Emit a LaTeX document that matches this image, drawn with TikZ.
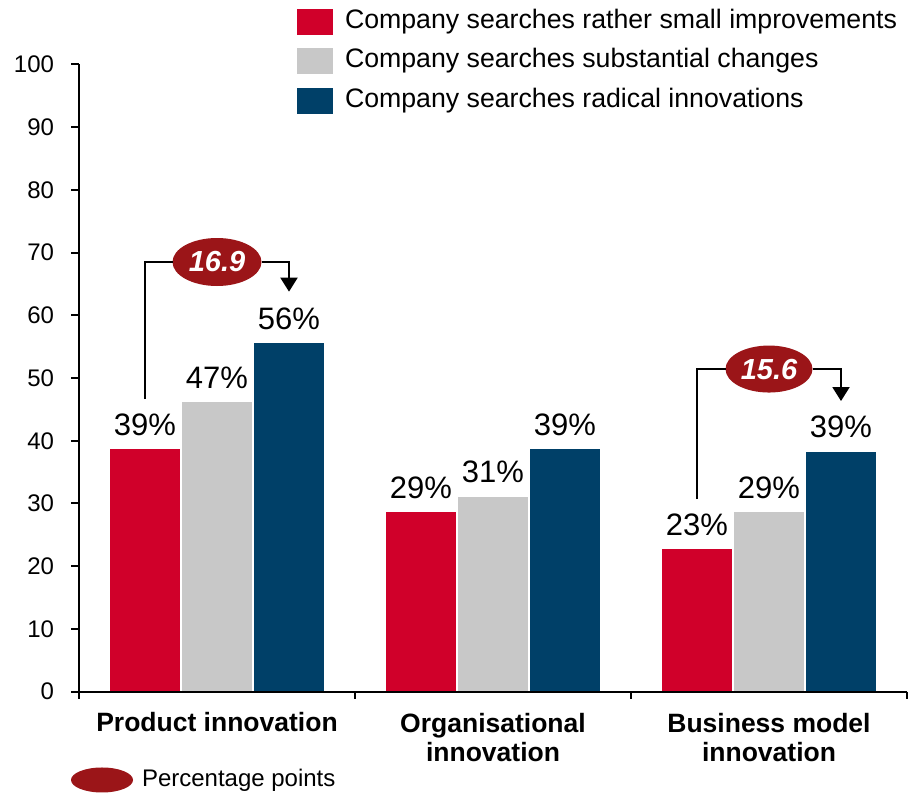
\documentclass[tikz,border=0pt]{standalone}
\usepackage{fontspec}
\setmainfont{Liberation Sans}
\definecolor{small}{RGB}{208,0,42}
\definecolor{subst}{RGB}{200,200,200}
\definecolor{radical}{RGB}{0,64,104}
\definecolor{points}{RGB}{155,21,24}
\usetikzlibrary{arrows.meta}
\usetikzlibrary{positioning}
\usetikzlibrary{shapes.geometric}
\tikzstyle{chart}=[x=1pt, y=6.274pt, inner sep=0pt, outer sep=0pt]
\tikzstyle{bar}=[draw=white, line width=1.5pt]
\tikzstyle{axis}=[black, line width=2pt]
\tikzstyle{tick}=[font=\fontsize{24}{28}\selectfont, anchor=east]
\tikzstyle{pct}=[font=\fontsize{31}{36}\selectfont, anchor=base]
\tikzstyle{cat}=[font=\fontsize{26.5}{29}\selectfont\bfseries, align=center, anchor=base]
\tikzstyle{key}=[minimum width=36pt, minimum height=26pt]
\tikzstyle{keytext}=[font=\fontsize{26.7}{30}\selectfont]
\tikzstyle{diff}=[ellipse, fill=points, text=white, font=\fontsize{29}{32}\selectfont\bfseries\itshape, minimum width=89pt, minimum height=48pt]
\tikzstyle{bracket}=[black, line width=2pt]

\begin{document}
\begin{tikzpicture}[chart]
    \path [use as bounding box] (0,-16.146) rectangle (912,110.25);
        % bars
        \draw [bar, fill=small] (109,0) rectangle (181,38.8);
        \draw [bar, fill=subst] (181,0) rectangle (253,46.3);
        \draw [bar, fill=radical] (253,0) rectangle (325,55.7);
        \draw [bar, fill=small] (385,0) rectangle (457,28.8);
        \draw [bar, fill=subst] (457,0) rectangle (529,31.2);
        \draw [bar, fill=radical] (529,0) rectangle (601,38.8);
        \draw [bar, fill=small] (661,0) rectangle (733,22.9);
        \draw [bar, fill=subst] (733,0) rectangle (805,28.8);
        \draw [bar, fill=radical] (805,0) rectangle (877,38.4);
        \node [pct] (p1a) at (145,38.8 + 2.07) {39\%};
        \node [pct] (p1b) at (217,46.3 + 2.07) {47\%};
        \node [pct] (p1c) at (289,55.7 + 2.07) {56\%};
        \node [pct] (p2a) at (421,28.8 + 2.07) {29\%};
        \node [pct] (p2b) at (493,31.2 + 2.07) {31\%};
        \node [pct] (p2c) at (565,38.8 + 2.07) {39\%};
        \node [pct] (p3a) at (697,22.9 + 2.07) {23\%};
        \node [pct] (p3b) at (769,28.8 + 2.07) {29\%};
        \node [pct] (p3c) at (841,38.4 + 2.07) {39\%};
        % axes
        \draw [axis] (79,100) -- (79,0) -- (907,0);
        \draw [axis] (71,0) -- (79,0);
        \draw [axis] (71,10) -- (79,10);
        \draw [axis] (71,20) -- (79,20);
        \draw [axis] (71,30) -- (79,30);
        \draw [axis] (71,40) -- (79,40);
        \draw [axis] (71,50) -- (79,50);
        \draw [axis] (71,60) -- (79,60);
        \draw [axis] (71,70) -- (79,70);
        \draw [axis] (71,80) -- (79,80);
        \draw [axis] (71,90) -- (79,90);
        \draw [axis] (71,100) -- (79,100);
        \draw [axis] (79,0) -- (79,-1.15);
        \draw [axis] (355,0) -- (355,-1.15);
        \draw [axis] (631,0) -- (631,-1.15);
        \draw [axis] (907,0) -- (907,-1.15);
        \node [tick] (y0) at (54,0) {0};
        \node [tick] (y10) at (54,10) {10};
        \node [tick] (y20) at (54,20) {20};
        \node [tick] (y30) at (54,30) {30};
        \node [tick] (y40) at (54,40) {40};
        \node [tick] (y50) at (54,50) {50};
        \node [tick] (y60) at (54,60) {60};
        \node [tick] (y70) at (54,70) {70};
        \node [tick] (y80) at (54,80) {80};
        \node [tick] (y90) at (54,90) {90};
        \node [tick] (y100) at (54,100) {100};
        \node [cat] (product) at (217,-6.38) {Product innovation};
        \node [cat] (organisational) at (493,-11.05) {Organisational\\innovation};
        \node [cat] (business) at (769,-11.05) {Business model\\innovation};
        % differences
        \coordinate (t1) at (145,46.65);
        \coordinate (h1) at (289,63.76);
        \node [diff] (d1) at (217,68.49) {16.9};
        \draw [bracket] (t1) |- (d1);
        \draw [bracket, -{Triangle[width=17pt, length=14pt]}] (d1) -| (h1);
        \coordinate (t2) at (697,30.71);
        \coordinate (h2) at (841,46.33);
        \node [diff, minimum width=87pt, minimum height=47pt] (d2) at (769,51.43) {15.6};
        \draw [bracket] (t2) |- (d2);
        \draw [bracket, -{Triangle[width=17pt, length=14pt]}] (d2) -| (h2);
        % legend
        \node [key, fill=small] (k1) at (315,106.74) {};
        \node [key, fill=subst] (k2) at (315,100.53) {};
        \node [key, fill=radical] (k3) at (315,94.15) {};
        \node [keytext, right=12pt of k1] (k1text) {Company searches rather small improvements};
        \node [keytext, right=12pt of k2] (k2text) {Company searches substantial changes};
        \node [keytext, right=12pt of k3] (k3text) {Company searches radical innovations};
        \node [diff, minimum width=62pt, minimum height=25pt] (pk) at (102,-14.07) {};
        \node [keytext, font=\fontsize{24}{28}\selectfont, right=9pt of pk] (pktext) {Percentage points};
    \end{tikzpicture}
\end{document}
